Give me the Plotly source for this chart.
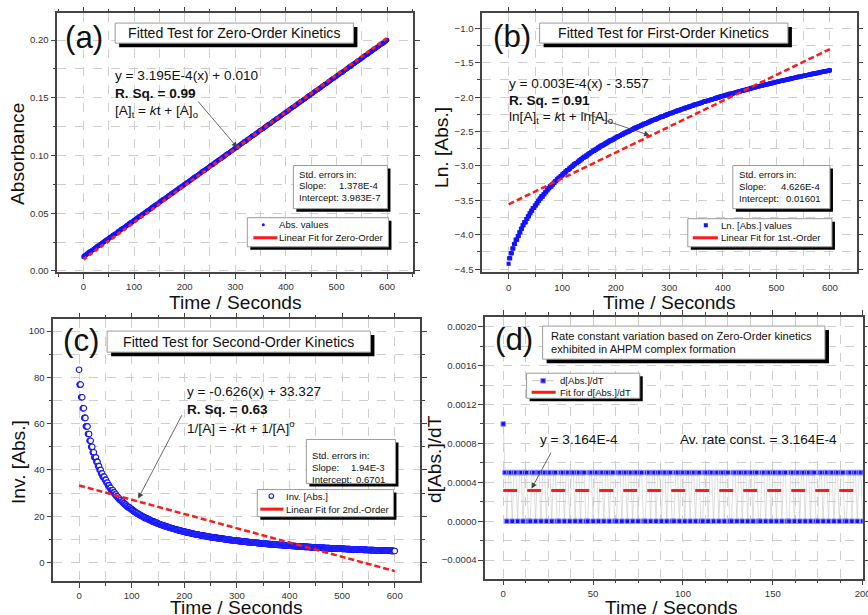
import numpy as np
import plotly.graph_objects as go

# Layout is designed on an 868x615 canvas (REF_W x REF_H); the capture shrinks the page
# by about 1%, so the figure is drawn slightly larger and pixel sizes are scaled by K.
REF_W, REF_H = 868, 615
K = 1 / 0.99
W, H = round(REF_W * K), round(REF_H * K)
FONT = "Arial, Liberation Sans, Helvetica, sans-serif"


def F(v):
    return v * K


# Absorbance (x1000) sampled every second, 0..600 s
absorbance_milli = [12,
 13,13,13,14,14,14,15,15,15,16,16,16,17,17,17,17,
 18,18,18,19,19,19,20,20,20,21,21,21,22,22,22,22,
 23,23,23,24,24,24,25,25,25,26,26,26,27,27,27,27,
 28,28,28,29,29,29,30,30,30,31,31,31,32,32,32,32,
 33,33,33,34,34,34,35,35,35,36,36,36,37,37,37,37,
 38,38,38,39,39,39,40,40,40,41,41,41,42,42,42,42,
 43,43,43,44,44,44,45,45,45,46,46,46,47,47,47,47,
 48,48,48,49,49,49,50,50,50,51,51,51,52,52,52,52,
 53,53,53,54,54,54,55,55,55,56,56,56,57,57,57,57,
 58,58,58,59,59,59,60,60,60,61,61,61,62,62,62,62,
 63,63,63,64,64,64,65,65,65,66,66,66,67,67,67,67,
 68,68,68,69,69,69,70,70,70,71,71,71,72,72,72,72,
 73,73,73,74,74,74,75,75,75,76,76,76,77,77,77,77,
 78,78,78,79,79,79,80,80,80,81,81,81,82,82,82,82,
 83,83,83,84,84,84,85,85,85,86,86,86,87,87,87,87,
 88,88,88,89,89,89,90,90,90,91,91,91,92,92,92,92,
 93,93,93,94,94,94,95,95,95,96,96,96,97,97,97,97,
 98,98,98,99,99,99,100,100,100,101,101,101,102,102,102,102,
 103,103,103,104,104,104,105,105,105,106,106,106,107,107,107,107,
 108,108,108,109,109,109,110,110,110,111,111,111,112,112,112,112,
 113,113,113,114,114,114,115,115,115,116,116,116,117,117,117,117,
 118,118,118,119,119,119,120,120,120,121,121,121,122,122,122,122,
 123,123,123,124,124,124,125,125,125,126,126,126,127,127,127,127,
 128,128,128,129,129,129,130,130,130,131,131,131,132,132,132,132,
 133,133,133,134,134,134,135,135,135,136,136,136,137,137,137,137,
 138,138,138,139,139,139,140,140,140,141,141,141,142,142,142,142,
 143,143,143,144,144,144,145,145,145,146,146,146,147,147,147,147,
 148,148,148,149,149,149,150,150,150,151,151,151,152,152,152,152,
 153,153,153,154,154,154,155,155,155,156,156,156,157,157,157,157,
 158,158,158,159,159,159,160,160,160,161,161,161,162,162,162,162,
 163,163,163,164,164,164,165,165,165,166,166,166,167,167,167,167,
 168,168,168,169,169,169,170,170,170,171,171,171,172,172,172,172,
 173,173,173,174,174,174,175,175,175,176,176,176,177,177,177,177,
 178,178,178,179,179,179,180,180,180,181,181,181,182,182,182,182,
 183,183,183,184,184,184,185,185,185,186,186,186,187,187,187,187,
 188,188,188,189,189,189,190,190,190,191,191,191,192,192,192,192,
 193,193,193,194,194,194,195,195,195,196,196,196,197,197,197,197,
 198,198,198,199,199,199,200,200]

time_s = np.arange(len(absorbance_milli))
absorbance = np.array(absorbance_milli) / 1000.0
ln_abs = np.log(absorbance)
inv_abs = 1.0 / absorbance
rate = np.gradient(absorbance, time_s)

fit_x = [0, 600]
zero_fit_y = [0.010, 0.2017]
first_fit_y = [-3.557, -1.30]
second_fit_y = [33.327, -3.7]
rate_fit_y = [3.164e-4, 3.164e-4]

BLUE = "#1414ff"
RED = "#ff1a1a"

fig = go.Figure()
# (a)
fig.add_trace(go.Scatter(x=time_s, y=absorbance, mode="markers", name="Abs. values",
                         marker=dict(color=BLUE, size=F(4.5), line=dict(width=0)), xaxis="x", yaxis="y"))
fig.add_trace(go.Scatter(x=fit_x, y=zero_fit_y, mode="lines", name="Linear Fit for Zero-Order",
                         line=dict(color=RED, width=F(3), dash="4px,3px"), xaxis="x", yaxis="y"))
# (b)
fig.add_trace(go.Scatter(x=time_s, y=ln_abs, mode="markers", name="Ln. [Abs.] values",
                         marker=dict(color=BLUE, size=F(4), symbol="square", line=dict(width=0)), xaxis="x2", yaxis="y2"))
fig.add_trace(go.Scatter(x=fit_x, y=first_fit_y, mode="lines", name="Linear Fit for 1st.-Order",
                         line=dict(color=RED, width=F(2.5), dash="6px,3px"), xaxis="x2", yaxis="y2"))
# (c)
fig.add_trace(go.Scatter(x=time_s, y=inv_abs, mode="markers", name="Inv. [Abs.]",
                         marker=dict(color="white", size=F(5.5), symbol="circle", line=dict(color=BLUE, width=1.1)),
                         xaxis="x3", yaxis="y3"))
fig.add_trace(go.Scatter(x=fit_x, y=second_fit_y, mode="lines", name="Linear Fit for 2nd.-Order",
                         line=dict(color=RED, width=F(2.5), dash="6px,3px"), xaxis="x3", yaxis="y3"))
# (d)
fig.add_trace(go.Scatter(x=time_s, y=rate, mode="lines+markers", name="d[Abs.]/dT",
                         line=dict(color="#c8c8c8", width=0.6),
                         marker=dict(color="#1010ff", size=F(4.5), symbol="square", line=dict(color="#9090ff", width=1)),
                         xaxis="x4", yaxis="y4"))
fig.add_trace(go.Scatter(x=fit_x, y=rate_fit_y, mode="lines", name="Fit for d[Abs.]/dT",
                         line=dict(color=RED, width=F(3), dash="14px,10px"), xaxis="x4", yaxis="y4"))


def px(x):
    return x / REF_W


def py(y):
    return 1 - y / REF_H


def xdom(x0, x1):
    return [max(0.0, px(x0)), min(1.0, px(x1))]


def ydom(top, bottom):
    return [max(0.0, py(bottom)), min(1.0, py(top))]


def axis(dom, rng, dtick, mdtick, anchor, tickformat=None):
    d = dict(domain=dom, range=rng, dtick=dtick, tick0=0, anchor=anchor,
             showline=True, linecolor="#444", linewidth=1.5, mirror="allticks",
             ticks="outside", ticklen=F(5), tickwidth=1.2, tickcolor="#444",
             tickfont=dict(family=FONT, size=F(9.5), color="#333"),
             showgrid=True, gridcolor="#cfcfcf", gridwidth=0.8, griddash="dash", zeroline=False,
             ticklabeloverflow="allow",
             minor=dict(dtick=mdtick, tick0=0, ticks="outside", ticklen=F(3), tickcolor="#444",
                        showgrid=True, gridcolor="#cfcfcf", gridwidth=0.8, griddash="dash"))
    if tickformat:
        d["tickformat"] = tickformat
    return d


layout = dict(width=W, height=H, margin=dict(l=0, r=0, t=0, b=0),
              plot_bgcolor="white", paper_bgcolor="white", showlegend=False)
layout["xaxis"] = axis(xdom(57.3, 412.7), [-51.5, 651.5], 100, 50, "y")
layout["yaxis"] = axis(ydom(13.3, 271), [-0.0009, 0.2232], 0.05, 0.025, "x", ".2f")
layout["xaxis2"] = axis(xdom(481.7, 855.7), [-49.2, 649.9], 100, 50, "y2")
layout["yaxis2"] = axis(ydom(13.3, 271.5), [-4.547, -0.781], 0.5, 0.25, "x2", ".1f")
layout["xaxis3"] = axis(xdom(53.3, 420), [-48.9, 648.9], 100, 50, "y3")
layout["yaxis3"] = axis(ydom(318.3, 579.3), [-8.06, 105.1], 20, 10, "x3")
layout["xaxis4"] = axis(xdom(484.7, 861.7), [-10, 200], 50, 12.5, "y4")
layout["yaxis4"] = axis(ydom(316, 576.7), [-0.00059, 0.0021], 0.0004, 0.0002, "x4", ".4f")

shapes = []
annotations = []


def box(x0, y0, x1, y1, sh=3):
    shapes.append(dict(type="rect", xref="paper", yref="paper", x0=px(x0 + sh), x1=px(x1 + sh),
                       y0=py(y1 + sh), y1=py(y0 + sh), fillcolor="black", line=dict(width=0), layer="above"))
    shapes.append(dict(type="rect", xref="paper", yref="paper", x0=px(x0), x1=px(x1),
                       y0=py(y1), y1=py(y0), fillcolor="white", line=dict(color="#9a9a9a", width=1), layer="above"))


def text(x, y, s, size, xanchor="left", color="#111", angle=0):
    annotations.append(dict(x=px(x), y=py(y), xref="paper", yref="paper", text=s, showarrow=False,
                            xanchor=xanchor, yanchor="middle", textangle=angle,
                            font=dict(family=FONT, size=F(size), color=color)))


def arrow(xt, yt, xh, yh):
    annotations.append(dict(x=px(xh), y=py(yh), xref="paper", yref="paper", ax=F(xt - xh), ay=F(yt - yh),
                            axref="pixel", ayref="pixel", text="", showarrow=True, arrowhead=2,
                            arrowsize=1.4, arrowwidth=0.8, arrowcolor="#444"))


def hline(x0, x1, y, color, width):
    shapes.append(dict(type="line", xref="paper", yref="paper", x0=px(x0), x1=px(x1), y0=py(y), y1=py(y),
                       line=dict(color=color, width=F(width)), layer="above"))


def dot(cx, cy, r, fill, line_color, lw, kind="circle"):
    shapes.append(dict(type=kind, xref="paper", yref="paper", x0=px(cx - r), x1=px(cx + r),
                       y0=py(cy + r), y1=py(cy - r), fillcolor=fill,
                       line=dict(color=line_color, width=lw), layer="above"))


# axis titles
text(235, 301.5, "Time / Seconds", 19, "center")
text(669, 301.5, "Time / Seconds", 19, "center")
text(236.7, 605.5, "Time / Seconds", 19, "center")
text(670.7, 605.5, "Time / Seconds", 19, "center")
text(17.5, 154, "Absorbance", 19, "center", angle=-90)
text(441, 147, "Ln. [Abs.]", 19, "center", angle=-90)
text(18.5, 461, "Inv. [Abs.]", 19, "center", angle=-90)
text(434, 458, "d[Abs.]/dT", 19, "center", angle=-90)

# ---------- panel (a) ----------
text(84, 37, "(a)", 31, "center")
box(115, 23, 353, 43, 4)
text(234, 33, "Fitted Test for Zero-Order Kinetics", 14, "center")
text(113, 75, "y = 3.195E-4(x) + 0.010", 13.5)
text(113, 93, "<b>R. Sq. = 0.99</b>", 13.5)
text(113, 111, "[A]<sub>t</sub> = <i>k</i>t + [A]<sub>o</sub>", 13.5)
arrow(197, 100, 237, 147)
box(293, 165, 387, 208)
text(297, 173.5, "Std. errors in:", 9.5)
text(297, 185, "Slope:", 9.5)
text(381, 185, "1.378E-4", 9.5, "right")
text(297, 196.5, "Intercept: 3.983E-7", 9.5)
box(247, 217, 388, 246)
dot(263, 224, 1.5, BLUE, BLUE, 0)
text(277, 224, "Abs. values", 9.5)
hline(253, 277, 237, RED, 3)
text(277, 237, "Linear Fit for Zero-Order", 9.5)

# ---------- panel (b) ----------
text(511, 36, "(b)", 31, "center")
box(539, 23, 787, 43, 4)
text(663, 33, "Fitted Test for First-Order Kinetics", 14, "center")
text(506, 83, "y = 0.003E-4(x) - 3.557", 13.5)
text(506, 100, "<b>R. Sq. = 0.91</b>", 13.5)
text(506, 117, "ln[A]<sub>t</sub> = <i>k</i>t + ln[A]<sub>o</sub>", 13.5)
arrow(581, 112, 649, 135)
box(732, 165, 829, 208)
text(736, 174, "Std. errors in:", 9.5)
text(736, 186, "Slope:", 9.5)
text(822, 186, "4.626E-4", 9.5, "right")
text(736, 197.5, "Intercept:", 9.5)
text(822, 197.5, "0.01601", 9.5, "right")
box(687, 218, 831, 246)
dot(705, 224.5, 2, BLUE, BLUE, 0, "rect")
text(718, 224.5, "Ln. [Abs.] values", 9.5)
hline(692, 717, 237, RED, 3)
text(718, 237, "Linear Fit for 1st.-Order", 9.5)

# ---------- panel (c) ----------
text(81, 339, "(c)", 31, "center")
box(107, 330, 370, 351, 4)
text(238.5, 340.5, "Fitted Test for Second-Order Kinetics", 14, "center")
text(185, 390, "y = -0.626(x) + 33.327", 13.5)
text(185, 408, "<b>R. Sq. = 0.63</b>", 13.5)
text(185, 426, "1/[A] = -<i>k</i>t + 1/[A]<sup>o</sup>", 13.5)
arrow(182, 413, 138, 497)
box(306, 438, 395, 482)
text(310, 454, "Std. errors in:", 9.5)
text(310, 466, "Slope:", 9.5)
text(387, 466, "1.94E-3", 9.5, "right")
text(310, 477.5, "Intercept:", 9.5)
text(387, 477.5, "0.6701", 9.5, "right")
box(257, 488, 393, 515)
dot(271, 494.5, 2.3, "white", BLUE, 1.1)
text(284, 494.5, "Inv. [Abs.]", 9.5)
hline(260, 283, 507.5, RED, 3)
text(284, 507.5, "Linear Fit for 2nd.-Order", 9.5)

# ---------- panel (d) ----------
text(513, 338, "(d)", 31, "center")
box(542, 325, 824, 358, 4)
text(548, 335, "Rate constant variation based on Zero-Order kinetics", 11)
text(548, 348, "exhibited in AHPM complex formation", 11)
box(526, 372, 639, 397)
hline(531, 553, 379.5, "#b8b8b8", 0.8)
dot(542.5, 379.5, 2.3, "#1010ff", "#9090ff", 1, "rect")
text(557, 379.5, "d[Abs.]/dT", 9.5)
hline(531, 555, 391, RED, 3)
text(557, 391, "Fit for d[Abs.]/dT", 9.5)
text(537, 438, "y = 3.164E-4", 13.5)
text(677, 438, "Av. rate const. = 3.164E-4", 13.5)
arrow(551, 450, 531, 487)

layout["shapes"] = shapes
layout["annotations"] = annotations
fig.update_layout(**layout)
fig.write_html("out.html", config={"displayModeBar": False},
               post_script="document.body.style.margin='0px';document.body.style.overflow='hidden';")
